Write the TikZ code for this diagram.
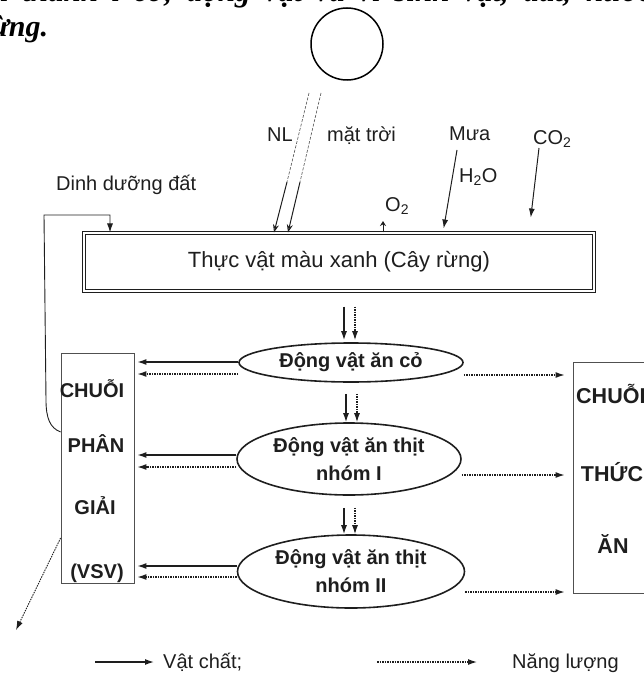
\documentclass[tikz,border=0pt]{standalone}
\usepackage{fontspec}
\setmainfont{Liberation Sans}
\newfontfamily\bookfont{Liberation Serif}
\usetikzlibrary{shapes,arrows.meta,positioning}
\definecolor{inkgray}{RGB}{30,30,30}
\definecolor{linegray}{RGB}{80,80,80}

\begin{document}
\begin{tikzpicture}[
    x=1pt, y=-1pt,
    every node/.style={text=inkgray},
    tag/.style={anchor=base west, inner sep=0pt, font=\fontsize{20}{24}\selectfont},
    boxlabel/.style={anchor=base, inner sep=0pt, font=\bfseries\fontsize{20}{24}\selectfont},
    animal/.style={ellipse, draw=inkgray, line width=1.6pt, inner sep=0pt, align=center, font=\bfseries\fontsize{20}{28}\selectfont},
    chainbox/.style={rectangle, draw=linegray, line width=0.8pt, inner sep=0pt},
    matter/.style={-{Latex[length=9pt,width=6pt]}, draw=inkgray, line width=1.3pt},
    energy/.style={-{Latex[length=9pt,width=6pt]}, draw=inkgray, line width=1.2pt, dash pattern=on 1.5pt off 1pt},
    sunray/.style={draw=linegray, line width=0.6pt, dash pattern=on 3pt off 1.5pt}
]
\useasboundingbox (0,0) rectangle (644,682);
\clip (0,0) rectangle (644,682);

% Page text cut off above the figure
\node[anchor=base west, inner sep=0pt, text=black, font=\bookfont\bfseries\itshape\fontsize{31}{34}\selectfont] (headtop) at (0,2) {\makebox[652pt][s]{i thành l cơ, động vật và vi sinh vật, đất, nước}};
\node[anchor=base west, inner sep=0pt, text=black, font=\bookfont\bfseries\itshape\fontsize{30}{34}\selectfont] (headend) at (-21,37) {rừng.};

% Sun
\node[circle, draw=black, line width=1.5pt, minimum size=72pt, inner sep=0pt] (sun) at (347,44) {};

% Green plants
\node[draw=inkgray, double=white, double distance=1.6pt, line width=1.1pt, minimum width=510pt, minimum height=58pt, inner sep=0pt, font=\fontsize{22}{26}\selectfont] (plants) at (339,262) {Thực vật màu xanh (Cây rừng)};

% Inputs and outputs of the plants
\node[tag] (nl) at (267,142) {NL};
\node[tag] (sunlight) at (327,141) {mặt trời};
\node[tag] (rain) at (449,140) {Mưa};
\node[tag] (carbon) at (533,144) {CO\textsubscript{2}};
\node[tag] (water) at (459,182) {H\textsubscript{2}O};
\node[tag] (oxygen) at (385,211) {O\textsubscript{2}};
\node[tag] (soil) at (56,190) {Dinh dưỡng đất};

% Consumers
\node[animal, minimum width=224pt, minimum height=39pt] (herb) at (351,362.5) {Động vật ăn cỏ};
\node[animal, minimum width=224pt, minimum height=72pt] (carn1) at (349,459) {Động vật ăn thịt\\nhóm I};
\node[animal, minimum width=227pt, minimum height=73pt] (carn2) at (351,571.5) {Động vật ăn thịt\\nhóm II};

% Decomposer chain
\node[chainbox, minimum width=73pt, minimum height=230pt] (decomp) at (97.5,468) {};
\node[boxlabel] (dec1) at (92,397) {CHUỖI};
\node[boxlabel] (dec2) at (96,452) {PHÂN};
\node[boxlabel] (dec3) at (95,514) {GIẢI};
\node[boxlabel] (dec4) at (97,578) {(VSV)};

% Food chain (runs off the page)
\node[chainbox, minimum width=82pt, minimum height=231pt] (food) at (614,477.5) {};
\node[boxlabel, anchor=base west, font=\bfseries\fontsize{21.5}{24}\selectfont] (food1) at (576,403) {CHUỖI};
\node[boxlabel, font=\bfseries\fontsize{21.5}{24}\selectfont] (food2) at (612,481) {THỨC};
\node[boxlabel, font=\bfseries\fontsize{21.5}{24}\selectfont] (food3) at (613,553) {ĂN};

% Sunlight
\coordinate (rayA) at (309,93);
\coordinate (rayAmid) at (287,182);
\coordinate (rayB) at (321,93);
\coordinate (rayBmid) at (300,182);
\draw[sunray] (rayA) -- (rayAmid);
\draw[sunray] (rayB) -- (rayBmid);
\draw[matter, line width=1pt, -{Stealth[length=8pt,width=6pt,open]}] (rayAmid) -- (plants.north -| 274,0);
\draw[matter, line width=1pt, -{Stealth[length=8pt,width=6pt,open]}] (rayBmid) -- (plants.north -| 288,0);

% Rain, CO2 and O2
\coordinate (rainfall) at (457,150);
\coordinate (co2in) at (539,148);
\coordinate (o2out) at (383,221);
\draw[matter, line width=1pt, shorten >=4pt] (rainfall) -- (plants.north -| 443,0);
\draw[matter, line width=1pt, shorten >=15pt] (co2in) -- (plants.north -| 529,0);
\draw[draw=inkgray, line width=0.9pt, -{Stealth[length=5pt,width=6pt,open]}] (plants.north -| 383,0) -- (o2out);

% Nutrients back to the plants
\draw[matter, line width=0.9pt] (decomp.west |- 0,432) .. controls (50,428) and (46,418) .. (46,400) -- (44,215) -| (plants.north -| 110,0);

% Plants to animals
\draw[matter, shorten <=15pt, shorten >=2pt] (plants.south -| 344,0) -- (herb.north -| 344,0);
\draw[energy, shorten <=15pt, shorten >=2pt] (plants.south -| 355,0) -- (herb.north -| 355,0);
\draw[matter, shorten <=11pt] (herb.south -| 346,0) -- (carn1.north -| 346,0);
\draw[energy, shorten <=11pt] (herb.south -| 357,0) -- (carn1.north -| 357,0);
\draw[matter, shorten <=12pt] (carn1.south -| 344,0) -- (carn2.north -| 344,0);
\draw[energy, shorten <=12pt] (carn1.south -| 355,0) -- (carn2.north -| 355,0);

% Animals to decomposers
\draw[matter, shorten >=3pt] (herb.west |- 0,362) -- (decomp.east |- 0,362);
\draw[energy, shorten >=3pt] (herb.west |- 0,374) -- (decomp.east |- 0,374);
\draw[matter, shorten >=3pt] (carn1.west |- 0,455) -- (decomp.east |- 0,455);
\draw[energy, shorten >=3pt] (carn1.west |- 0,467) -- (decomp.east |- 0,467);
\draw[matter, shorten >=3pt] (carn2.west |- 0,566) -- (decomp.east |- 0,566);
\draw[energy, shorten >=3pt] (carn2.west |- 0,577) -- (decomp.east |- 0,577);

% Animals to food chain
\draw[energy, shorten >=8pt] (herb.east |- 0,375) -- (food.west |- 0,375);
\draw[energy, shorten >=8pt] (carn1.east |- 0,475) -- (food.west |- 0,475);
\draw[energy, shorten >=8pt] (carn2.east |- 0,592) -- (food.west |- 0,592);

% Loss from decomposers
\coordinate (outflow) at (16,630);
\draw[energy, line width=0.9pt] (decomp.west |- 0,538) -- (outflow);

% Legend
\node[tag] (lgmatter) at (163,668) {Vật chất;};
\node[tag] (lgenergy) at (512,668) {Năng lượng};
\coordinate (lgm) at (95,662);
\coordinate (lge) at (377,662);
\draw[matter, shorten >=9pt] (lgm) -- (lgmatter.west |- lgm);
\draw[energy, shorten >=35pt] (lge) -- (lgenergy.west |- lge);

\end{tikzpicture}
\end{document}
